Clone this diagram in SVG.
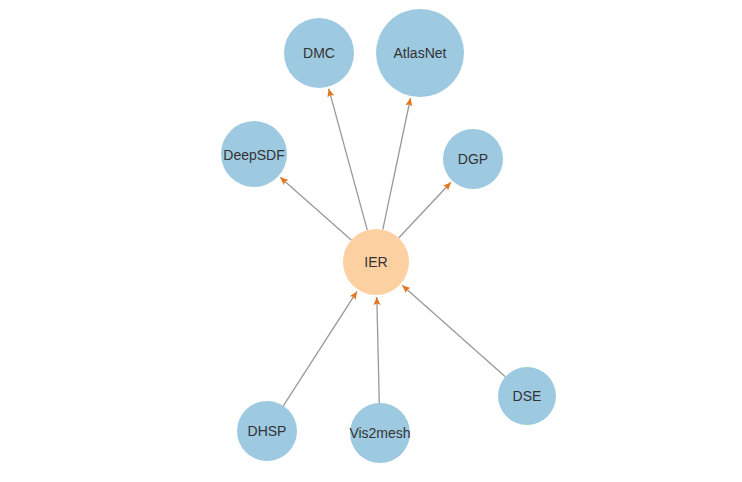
<svg xmlns="http://www.w3.org/2000/svg" width="742" height="482" viewBox="0 0 742 482">
<style>
.blue{fill:#9ecae1}
.orange{fill:#fdd0a2}
.lbl{font-family:"Liberation Sans",Arial,sans-serif;font-size:14px;fill:#333;text-anchor:middle}
.edge{stroke:#999;stroke-width:1.3;fill:none;marker-end:url(#arr)}
</style>
<defs>
<marker id="arr" markerUnits="userSpaceOnUse" markerWidth="10" markerHeight="8" refX="8" refY="3.5" orient="auto">
<path d="M0,0 L8,3.5 L0,7 L1.5,3.5 z" fill="#e6751a"/>
</marker>
</defs>
<rect width="742" height="482" fill="#fff"/>
<g id="edges">
<line class="edge" x1="367.3" y1="230.2" x2="328.7" y2="88.7"/>
<line class="edge" x1="382.8" y1="229.7" x2="410.5" y2="98"/>
<line class="edge" x1="351.3" y1="240.1" x2="280.2" y2="177.2"/>
<line class="edge" x1="398.6" y1="238" x2="451" y2="182.3"/>
<line class="edge" x1="283.3" y1="405.8" x2="357" y2="291.4"/>
<line class="edge" x1="379.3" y1="403" x2="376.8" y2="297"/>
<line class="edge" x1="505.3" y1="376.7" x2="402.2" y2="285.2"/>
</g>
<g id="IER"><circle class="orange" cx="376" cy="262" r="33"/><text class="lbl" x="376" y="267">IER</text></g>
<g id="DMC"><circle class="blue" cx="319" cy="53" r="35"/><text class="lbl" x="319" y="58">DMC</text></g>
<g id="AtlasNet"><circle class="blue" cx="420" cy="53" r="44"/><text class="lbl" x="420" y="58">AtlasNet</text></g>
<g id="DeepSDF"><circle class="blue" cx="254" cy="154" r="33"/><text class="lbl" x="254" y="160">DeepSDF</text></g>
<g id="DGP"><circle class="blue" cx="473" cy="159" r="30"/><text class="lbl" x="473" y="164">DGP</text></g>
<g id="DHSP"><circle class="blue" cx="267" cy="431" r="30"/><text class="lbl" x="267" y="436">DHSP</text></g>
<g id="Vis2mesh"><circle class="blue" cx="380" cy="433" r="30"/><text class="lbl" x="380" y="438">Vis2mesh</text></g>
<g id="DSE"><circle class="blue" cx="527" cy="396" r="29"/><text class="lbl" x="527" y="401">DSE</text></g>
</svg>
